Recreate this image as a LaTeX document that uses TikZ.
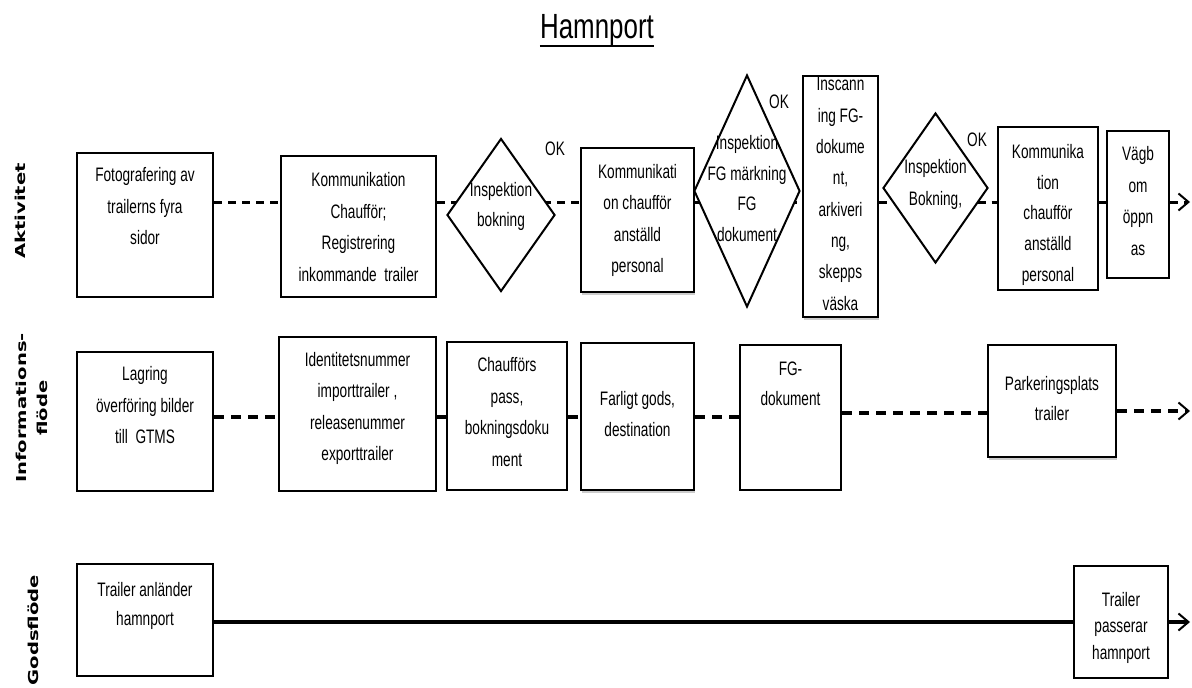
\documentclass[tikz,border=0pt]{standalone}
\usepackage{fontspec}
\newfontfamily\boxfont[FakeStretch=0.7]{Liberation Sans}
\newfontfamily\titlefont[FakeStretch=0.74]{Liberation Sans}
\newfontfamily\lanefont[FakeStretch=1.43]{DejaVu Sans Bold}
\usetikzlibrary{shapes.geometric,arrows.meta,shadows}
\pgfdeclarelayer{background}
\pgfsetlayers{background,main}

\begin{document}
\begin{tikzpicture}[x=1pt,y=-1pt,
  box/.style={draw, line width=2.5pt, fill=white, rectangle, inner sep=0pt},
  decision/.style={draw, line width=2pt, fill=white, diamond, inner sep=0pt},
  shaded/.style={drop shadow={shadow xshift=1pt, shadow yshift=-3pt, opacity=0.2, fill=black}},
  txt/.style={font=\boxfont\fontsize{19.5}{#1}\selectfont, align=center, inner sep=0pt,
              execute at begin node=\strut, execute at end node=\strut},
  txt/.default=31.5,
  lane/.style={font=\lanefont\fontsize{13.7}{21}\selectfont, align=center, rotate=90, inner sep=0pt},
  actline/.style={line width=3pt, dash pattern=on 8pt off 6pt},
  infoline/.style={line width=3.5pt, dash pattern=on 10pt off 7pt},
  goodsline/.style={line width=3.5pt},
  tip/.style={-{Straight Barb[length=10pt, width=17pt, line width=2pt]}}
]
\useasboundingbox (0,0) rectangle (1192,688);
\begin{pgfonlayer}{background}
  \fill[white] (0,0) rectangle (1192,688);
\end{pgfonlayer}

% title
\node[font=\titlefont\fontsize{35}{40}\selectfont, anchor=base, inner sep=0pt] (title) at (597,38) {Hamnport};
\draw[line width=2pt] ([yshift=-0.5pt]title.south west) -- ([yshift=-0.5pt]title.south east);

% lane labels
\node[lane] (laneA) at (20,211) {Aktivitet};
\node[lane] (laneB) at (32,408) {Informations-\\flöde};
\node[lane] (laneC) at (33,630) {Godsflöde};

% reference rows for the connectors
\coordinate (rowA) at (0,202);
\coordinate (endA) at (1190,202);
\coordinate (rowB) at (0,417);
\coordinate (rowB2) at (0,413);
\coordinate (endB) at (1190,411);
\coordinate (rowC) at (0,622);
\coordinate (endC) at (1190,622);

% activity row
\node[box, minimum width=136pt, minimum height=144pt] (b1) at (145,225) {};
\node[box, minimum width=155pt, minimum height=141pt] (b2) at (358.5,226.5) {};
\node[decision, minimum width=108pt, minimum height=153pt] (d1) at (501,215) {};
\node[box, shaded, minimum width=113pt, minimum height=144pt] (b3) at (637.5,220) {};
\node[decision, minimum width=106pt, minimum height=232pt] (d2) at (747,191) {};
\node[box, shaded, minimum width=75pt, minimum height=241pt] (b4) at (840.5,196.5) {};
\node[decision, minimum width=105pt, minimum height=150pt] (d3) at (935.5,188) {};
\node[box, minimum width=100pt, minimum height=163pt] (b5) at (1048,208.5) {};
\node[box, minimum width=62pt, minimum height=147pt] (b6) at (1138,204.5) {};

\node[txt] (tb1) at (145,211) {Fotografering av\\trailerns fyra\\sidor};
\node[txt] (tb2) at (358.5,231.5) {Kommunikation\\Chaufför;\\Registrering\\inkommande~ trailer};
\node[txt=30] (td1) at (501,209) {Inspektion\\bokning};
\node[txt] (tb3) at (637.5,223) {Kommunikati\\on chaufför\\anställd\\personal};
\node[txt=30.7] (td2) at (747,193) {Inspektion\\FG märkning\\FG\\dokument};
\node[txt=31.3] (tb4) at (840.5,198.5) {Inscann\\ing FG-\\dokume\\nt,\\arkiveri\\ng,\\skepps\\väska};
\node[txt=32] (td3) at (935.5,187) {Inspektion\\Bokning,};
\node[txt=30.8] (tb5) at (1048,217.5) {Kommunika\\tion\\chaufför\\anställd\\personal};
\node[txt] (tb6) at (1138,205.5) {Vägb\\om\\öppn\\as};

\node[txt] (ok1) at (555,149) {OK};
\node[txt] (ok2) at (779,102) {OK};
\node[txt] (ok3) at (977,140) {OK};

% information row
\node[box, minimum width=136pt, minimum height=139pt] (i1) at (145,421.5) {};
\node[box, minimum width=157pt, minimum height=154pt] (i2) at (357.5,414) {};
\node[box, minimum width=120pt, minimum height=148pt] (i3) at (507,416) {};
\node[box, shaded, minimum width=113pt, minimum height=147pt] (i4) at (637.5,416.5) {};
\node[box, minimum width=101pt, minimum height=145pt] (i5) at (790.5,417.5) {};
\node[box, shaded, minimum width=128pt, minimum height=112pt] (i6) at (1052,401) {};

\node[txt] (ti1) at (145,410) {Lagring\\överföring bilder\\till~ GTMS};
\node[txt] (ti2) at (357.5,411) {Identitetsnummer\\importtrailer ,\\releasenummer\\exporttrailer};
\node[txt] (ti3) at (507,416.5) {Chaufförs\\pass,\\bokningsdoku\\ment};
\node[txt] (ti4) at (637.5,418.5) {Farligt gods,\\destination};
\node[txt=30] (ti5) at (790.5,388) {FG-\\dokument};
\node[txt=30] (ti6) at (1052,403) {Parkeringsplats\\trailer};

% goods row
\node[box, minimum width=136pt, minimum height=112pt] (g1) at (145,620) {};
\node[box, minimum width=94pt, minimum height=112pt] (g2) at (1121,622) {};

\node[txt=29] (tg1) at (145,608.5) {Trailer anländer\\hamnport};
\node[txt=26.5] (tg2) at (1121,629.5) {Trailer\\passerar\\hamnport};

% connectors behind the shapes
\begin{pgfonlayer}{background}
  \draw[actline] (b1.east |- rowA) -- (b2.west |- rowA);
  \draw[actline] (b2.east |- rowA) -- (d1.center |- rowA);
  \draw[actline] (d1.center |- rowA) -- (b3.west |- rowA);
  \draw[actline] (b3.east |- rowA) -- (d2.center |- rowA);
  \draw[actline] (d2.center |- rowA) -- (b4.west |- rowA);
  \draw[actline] (b4.east |- rowA) -- (d3.center |- rowA);
  \draw[actline] (d3.center |- rowA) -- (b5.west |- rowA);
  \draw[actline] (b5.east |- rowA) -- (b6.west |- rowA);
  \draw[actline, tip] (b6.east |- rowA) -- (endA);

  \draw[infoline] (i1.east |- rowB) -- (i2.west |- rowB);
  \draw[infoline] (i2.east |- rowB) -- (i3.west |- rowB);
  \draw[infoline] (i3.east |- rowB) -- (i4.west |- rowB);
  \draw[infoline] (i4.east |- rowB) -- (i5.west |- rowB);
  \draw[infoline] (i5.east |- rowB2) -- (i6.west |- rowB2);
  \draw[infoline, tip] (i6.east |- endB) -- (endB);

  \draw[goodsline, drop shadow={shadow xshift=0pt, shadow yshift=-3pt, opacity=0.2}] (g1.east |- rowC) -- (g2.west |- rowC);
  \draw[goodsline, tip] (g2.east |- rowC) -- (endC);
\end{pgfonlayer}
\end{tikzpicture}
\end{document}
